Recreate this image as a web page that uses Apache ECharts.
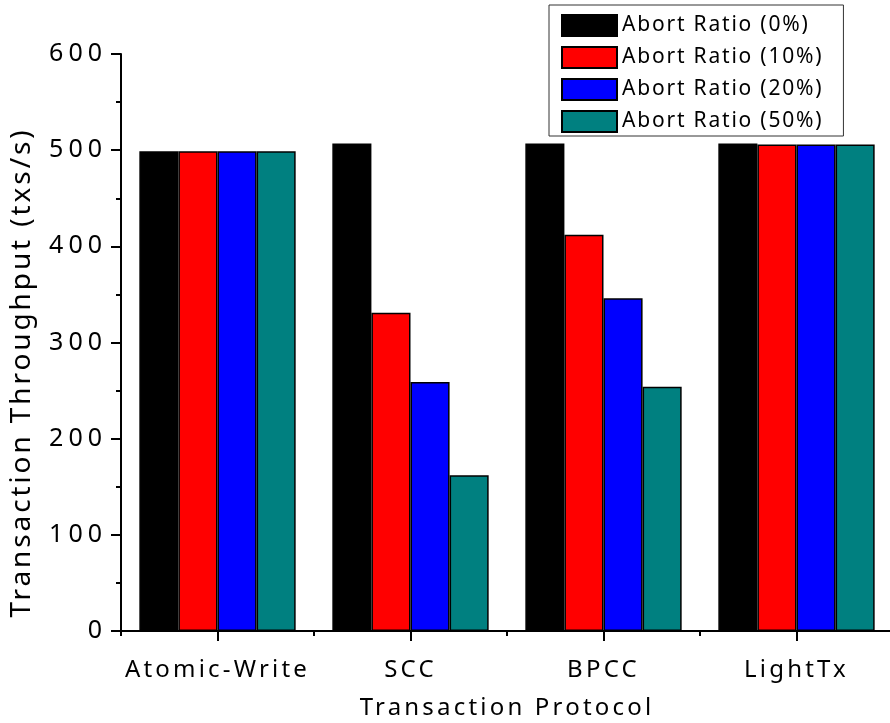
<!DOCTYPE html>
<html><head><meta charset="utf-8">
<script src="https://cdn.jsdelivr.net/npm/echarts@6/dist/echarts.min.js"></script>
<style>html,body{margin:0;padding:0;background:#fff}#c{width:890px;height:723px}</style>
</head><body><div id="c"></div>
<script>
const categories = ['Atomic-Write', 'SCC', 'BPCC', 'LightTx'];
const seriesNames = ['Abort Ratio (0%)', 'Abort Ratio (10%)', 'Abort Ratio (20%)', 'Abort Ratio (50%)'];
const abort0 = [499, 507, 507, 507];
const abort10 = [499, 331, 412, 506];
const abort20 = [499, 259, 346, 506];
const abort50 = [499, 162, 254, 506];
const yTicks = [0, 100, 200, 300, 400, 500, 600];

const colors = ['#000000', '#ff0000', '#0000ff', '#008080'];
const values = [abort0, abort10, abort20, abort50];
const font = 'Noto Sans';

// wide letter spacing as in the reference (per font size)
const SPACING = { 28: 2.9, 25: 5, 24: 3.2, 21: 1.8 };
(function () {
  const P = CanvasRenderingContext2D.prototype;
  if (!('letterSpacing' in P)) return;
  const apply = ctx => {
    const m = /(\d+(?:\.\d+)?)px/.exec(ctx.font || '');
    const s = m ? (SPACING[Math.round(+m[1])] || 0) : 0;
    ctx.letterSpacing = s + 'px';
  };
  const mt = P.measureText, ft = P.fillText, st = P.strokeText;
  P.measureText = function (t) { apply(this); return mt.call(this, t); };
  P.fillText = function () { apply(this); return ft.apply(this, arguments); };
  P.strokeText = function () { apply(this); return st.apply(this, arguments); };
})();

const chart = echarts.init(document.getElementById('c'));
chart.setOption({
  animation: false,
  textStyle: { fontFamily: font, color: '#000' },
  grid: { left: 121, right: -3, top: 54, bottom: 92, containLabel: false, outerBoundsMode: 'none' },
  legend: {
    orient: 'vertical', left: 549, top: 5,
    padding: [9, 20, 3, 12],
    borderColor: '#333', borderWidth: 1,
    itemWidth: 55, itemHeight: 21, itemGap: 9,
    textStyle: { fontSize: 21, lineHeight: 22, color: '#000', fontFamily: font },
    data: seriesNames.map(n => ({ name: n, icon: 'rect' }))
  },
  xAxis: [{
    type: 'category', data: categories,
    axisLine: { lineStyle: { color: '#000', width: 2 } },
    axisTick: { show: true, length: 5, lineStyle: { color: '#000', width: 2 } },
    axisLabel: { interval: 0, fontSize: 24, color: '#000', margin: 26, fontFamily: font },
    name: 'Transaction Protocol', nameLocation: 'middle', nameGap: 64,
    nameTextStyle: { fontSize: 24, color: '#000', fontFamily: font }
  }, {
    type: 'category', data: categories, position: 'bottom',
    axisLine: { show: false },
    axisTick: { show: true, alignWithLabel: true, interval: 0, length: 10, lineStyle: { color: '#000', width: 2 } },
    axisLabel: { show: false }
  }],
  yAxis: {
    type: 'value', min: 0, max: 600, interval: 100,
    axisLine: { show: true, lineStyle: { color: '#000', width: 2 } },
    axisTick: { show: true, length: 10, lineStyle: { color: '#000', width: 2 } },
    minorTick: { show: true, splitNumber: 2, length: 5, lineStyle: { color: '#000', width: 2 } },
    splitLine: { show: false },
    axisLabel: {
      fontSize: 25, color: '#000', margin: 14, fontFamily: font,
      formatter: v => (yTicks.indexOf(v) >= 0 ? String(v) : '')
    },
    name: 'Transaction Throughput (txs/s)', nameLocation: 'middle', nameGap: 84,
    nameTextStyle: { fontSize: 28, color: '#000', fontFamily: font, padding: [0, 60, 0, 0] }
  },
  series: seriesNames.map((n, i) => ({
    name: n, type: 'bar', xAxisIndex: 0,
    data: values[i],
    barGap: '0%', barCategoryGap: '19%',
    itemStyle: { color: colors[i], borderColor: '#000', borderWidth: 1.5 }
  }))
});
</script></body></html>
